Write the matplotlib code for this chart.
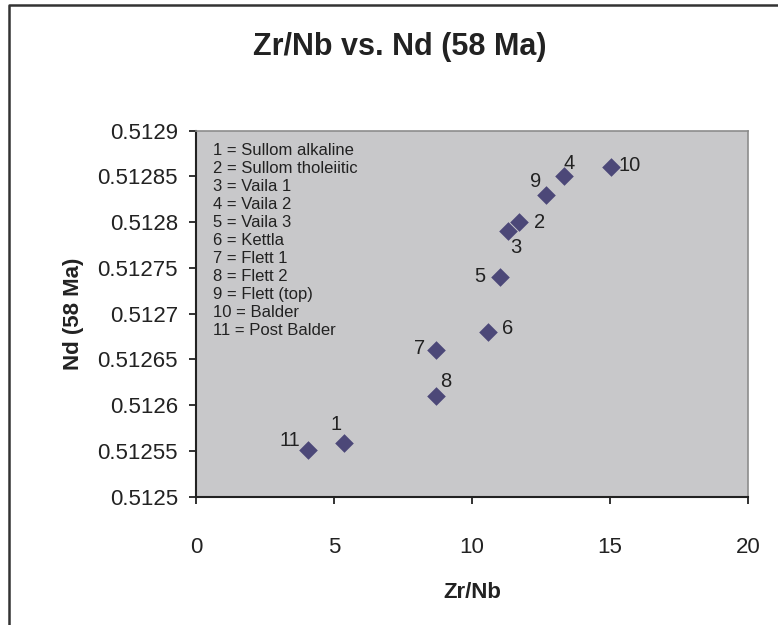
import matplotlib
matplotlib.use("Agg")
import matplotlib.pyplot as plt
from matplotlib.lines import Line2D

plt.rcParams['font.family'] = ['Liberation Sans', 'DejaVu Sans']

# data
sample_ids = ["1", "2", "3", "4", "5", "6", "7", "8", "9", "10", "11"]
zr_nb = [5.35, 11.70, 11.29, 13.33, 11.00, 10.59, 8.68, 8.68, 12.69, 15.03, 4.07]
nd_58 = [0.512559, 0.51280, 0.51279, 0.51285, 0.51274, 0.51268,
         0.51266, 0.51261, 0.51283, 0.51286, 0.512551]
key_names = ["Sullom alkaline", "Sullom tholeiitic", "Vaila 1", "Vaila 2",
             "Vaila 3", "Kettla", "Flett 1", "Flett 2", "Flett (top)",
             "Balder", "Post Balder"]
y_ticks = [0.5125, 0.51255, 0.5126, 0.51265, 0.5127, 0.51275, 0.5128, 0.51285, 0.5129]
y_tick_labels = ["0.5125", "0.51255", "0.5126", "0.51265", "0.5127",
                 "0.51275", "0.5128", "0.51285", "0.5129"]
x_ticks = [0, 5, 10, 15, 20]

# label offsets in pixels (excel data label placement)
label_offsets = {"1": (-8, 18), "2": (21, 0), "3": (8, -16), "4": (5, 13),
                 "5": (-20, 0), "6": (19, 3), "7": (-16, 2), "8": (10, 14),
                 "9": (-11, 13), "10": (19, 2), "11": (-18, 10)}

fig = plt.figure(figsize=(7.78, 6.25), dpi=100)
ax = fig.add_axes([196/778, 1 - 496.7/625, 552/778, 366.2/625])
ax.set_facecolor('#C8C8CA')

ax.scatter(zr_nb, nd_58, marker='D', s=90, color='#4C4878', zorder=3, linewidths=0)
for sid, x, y in zip(sample_ids, zr_nb, nd_58):
    dx, dy = label_offsets[sid]
    ax.annotate(sid, (x, y), xytext=(dx, dy), textcoords='offset pixels',
                ha='center', va='center', fontsize=14.5, color='#222222')

ax.set_xlim(0, 20)
ax.set_ylim(0.5125, 0.5129)
ax.set_xticks(x_ticks)
ax.set_yticks(y_ticks)
ax.set_yticklabels(y_tick_labels)
ax.tick_params(direction='out', length=5, width=1.3, labelsize=16,
               colors='#222222', pad=8)
ax.tick_params(axis='x', pad=24)

for side in ['left', 'bottom']:
    ax.spines[side].set_color('#222222')
    ax.spines[side].set_linewidth(1.5)
for side in ['top', 'right']:
    ax.spines[side].set_color('#8C8C8C')
    ax.spines[side].set_linewidth(1.2)

key_text = "\n".join(f"{i} = {n}" for i, n in zip(sample_ids, key_names))
ax.text(0.03, 0.965, key_text, transform=ax.transAxes, ha='left', va='top',
        fontsize=12, color='#222222', linespacing=1.25)

ax.set_xlabel("Zr/Nb", fontsize=16, fontweight='bold', labelpad=17, color='#222222')
ax.set_ylabel("Nd (58 Ma)", fontsize=16, fontweight='bold', labelpad=10, color='#222222')
fig.text(400/778, 1 - 47/625, "Zr/Nb vs. Nd (58 Ma)", ha='center', va='center',
         fontsize=22, fontweight='bold', color='#222222')

# chart area frame (left and top edges visible)
fig.add_artist(Line2D([9/778, 9/778, 1.0], [0, 1 - 5/625, 1 - 5/625],
                      transform=fig.transFigure, color='#333333', linewidth=1.8))

fig.savefig("out.png", dpi=100, facecolor='white')
